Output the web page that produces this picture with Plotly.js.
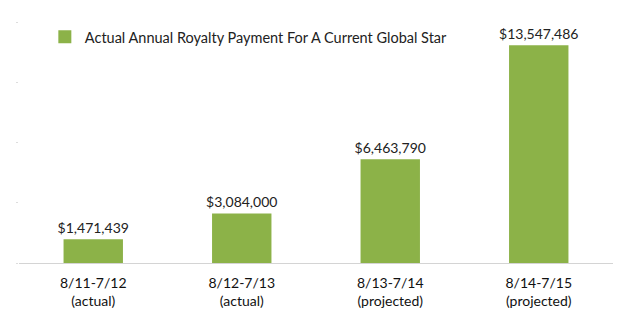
<!DOCTYPE html>
<html>
<head>
<meta charset="utf-8">
<script src="https://cdn.plot.ly/plotly-3.0.1.min.js"></script>
<style>html,body{margin:0;padding:0;background:#fff;}#chart{width:630px;height:331px;}</style>
</head>
<body>
<div id="chart"></div>
<script>
const categories = ["8/11-7/12<br>(actual)", "8/12-7/13<br>(actual)", "8/13-7/14<br>(projected)", "8/14-7/15<br>(projected)"];
const payments = [1471439, 3084000, 6463790, 13547486];
const valueLabels = ["$1,471,439", "$3,084,000", "$6,463,790", "$13,547,486"];
const seriesName = "Actual Annual Royalty Payment For A Current Global Star";
const yTicks = [0, 3750000, 7500000, 11250000, 15000000];

const barColor = "#8cb248";
const fontFam = "Lato, 'Open Sans', sans-serif";

const trace = {
  type: "bar",
  x: categories,
  y: payments,
  name: seriesName,
  text: valueLabels,
  textposition: "outside",
  constraintext: "none",
  cliponaxis: false,
  textfont: {family: fontFam, size: 14, color: "#222"},
  marker: {color: barColor},
  hoverinfo: "none",
  showlegend: false
};

// legend entry with a larger square swatch
const legendTrace = {
  type: "scatter", mode: "markers",
  x: [null], y: [null],
  name: seriesName,
  marker: {symbol: "square", size: 13, color: barColor},
  hoverinfo: "none",
  showlegend: true
};

const layout = {
  width: 630, height: 331,
  margin: {l: 19, r: 17, t: 22, b: 68},
  paper_bgcolor: "#fff", plot_bgcolor: "#fff",
  bargap: 0.6,
  font: {family: fontFam, size: 14, color: "#222"},
  showlegend: true,
  legend: {x: 0.0435, y: 0.938, xanchor: "left", yanchor: "middle", bgcolor: "rgba(0,0,0,0)",
           font: {family: fontFam, size: 14.5, color: "#222"}},
  xaxis: {
    type: "category",
    showline: true, linecolor: "#d4d4d4", linewidth: 1,
    showgrid: false, ticks: "", ticklabelstandoff: 7,
    tickfont: {family: fontFam, size: 14, color: "#111"}
  },
  yaxis: {
    range: [0, 15000000],
    tickvals: yTicks, showticklabels: false,
    ticks: "outside", ticklen: 2, tickcolor: "#ddd",
    showgrid: false, zeroline: false, showline: false
  }
};

Plotly.newPlot("chart", [trace, legendTrace], layout, {displayModeBar: false, staticPlot: true});
</script>
</body>
</html>
